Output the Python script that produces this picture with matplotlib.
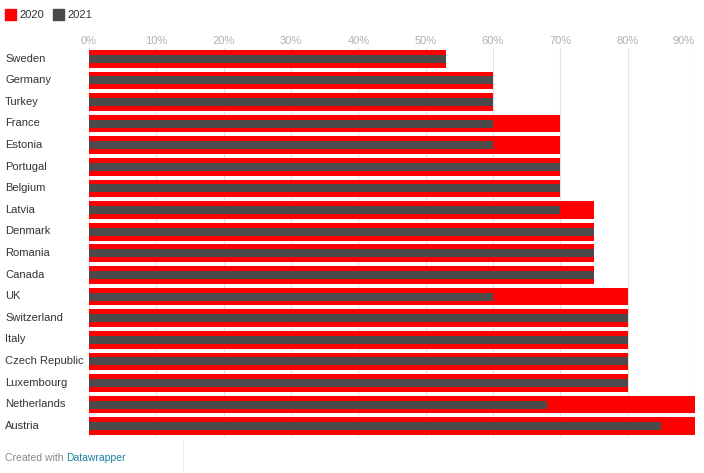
import numpy as np
import matplotlib
matplotlib.use('Agg')
import matplotlib.pyplot as plt
from matplotlib.patches import Rectangle
from matplotlib.lines import Line2D

plt.rcParams['font.family'] = ['Liberation Sans', 'DejaVu Sans']

countries = ['Sweden', 'Germany', 'Turkey', 'France', 'Estonia', 'Portugal',
             'Belgium', 'Latvia', 'Denmark', 'Romania', 'Canada', 'UK',
             'Switzerland', 'Italy', 'Czech Republic', 'Luxembourg',
             'Netherlands', 'Austria']
v2020 = [53, 60, 60, 70, 70, 70, 70, 75, 75, 75, 75, 80, 80, 80, 80, 80, 90, 90]
v2021 = [53, 60, 60, 60, 60, 70, 70, 70, 75, 75, 75, 60, 80, 80, 80, 80, 68, 85]
ticks = [0, 10, 20, 30, 40, 50, 60, 70, 80, 90]

W, H = 704, 473
red = '#ff0000'
grey = '#4a4a4a'

fig = plt.figure(figsize=(W / 100, H / 100), dpi=100)
# axes in pixel terms: x 89..695, y 48..437
ax = fig.add_axes([89 / W, 1 - 437 / H, (695 - 89) / W, (437 - 48) / H])

ypos = np.arange(len(countries))
ax.barh(ypos, v2020, height=0.82, color=red, zorder=2)
ax.barh(ypos, v2021, height=0.37, color=grey, zorder=3)

ax.set_xlim(0, 90)
ax.set_ylim(len(countries) - 0.5, -0.5)
ax.set_xticks(ticks)
ax.set_xticklabels(['%d%%' % t for t in ticks])
ax.xaxis.set_ticks_position('top')
ax.tick_params(axis='x', length=0, pad=1.5, labelsize=8, labelcolor='#b0b0b0')
ax.get_xticklabels()[-1].set_ha('right')
ax.set_yticks([])
ax.grid(axis='x', color='#e3e3e3', lw=0.8, zorder=0)
for s in ax.spines.values():
    s.set_visible(False)

# country labels at left edge
for i, c in enumerate(countries):
    fig.text(5 / W, 1 - (58.5 + i * 21.6) / H, c, ha='left', va='center',
             fontsize=8, color='#333333')

# legend
fig.patches.append(Rectangle((5 / W, 1 - 20 / H), 11 / W, 11 / H,
                             transform=fig.transFigure, color=red))
fig.text(19 / W, 1 - 15 / H, '2020', ha='left', va='center', fontsize=8, color='#333333')
fig.patches.append(Rectangle((53 / W, 1 - 20 / H), 11 / W, 11 / H,
                             transform=fig.transFigure, color=grey))
fig.text(67 / W, 1 - 15 / H, '2021', ha='left', va='center', fontsize=8, color='#333333')

# footer
t1 = fig.text(5 / W, 1 - 458 / H, 'Created with ', ha='left', va='center',
              fontsize=7.5, color='#888888')
fig.canvas.draw()
bb = t1.get_window_extent()
fig.text(bb.x1 / W, 1 - 458 / H, 'Datawrapper', ha='left', va='center',
         fontsize=7.5, color='#1d81a2')
fig.lines.append(Line2D([183 / W, 183 / W], [0, 1 - 440 / H],
                        transform=fig.transFigure, color='#eeeeee', lw=0.8))

fig.savefig('out.png', dpi=100)
